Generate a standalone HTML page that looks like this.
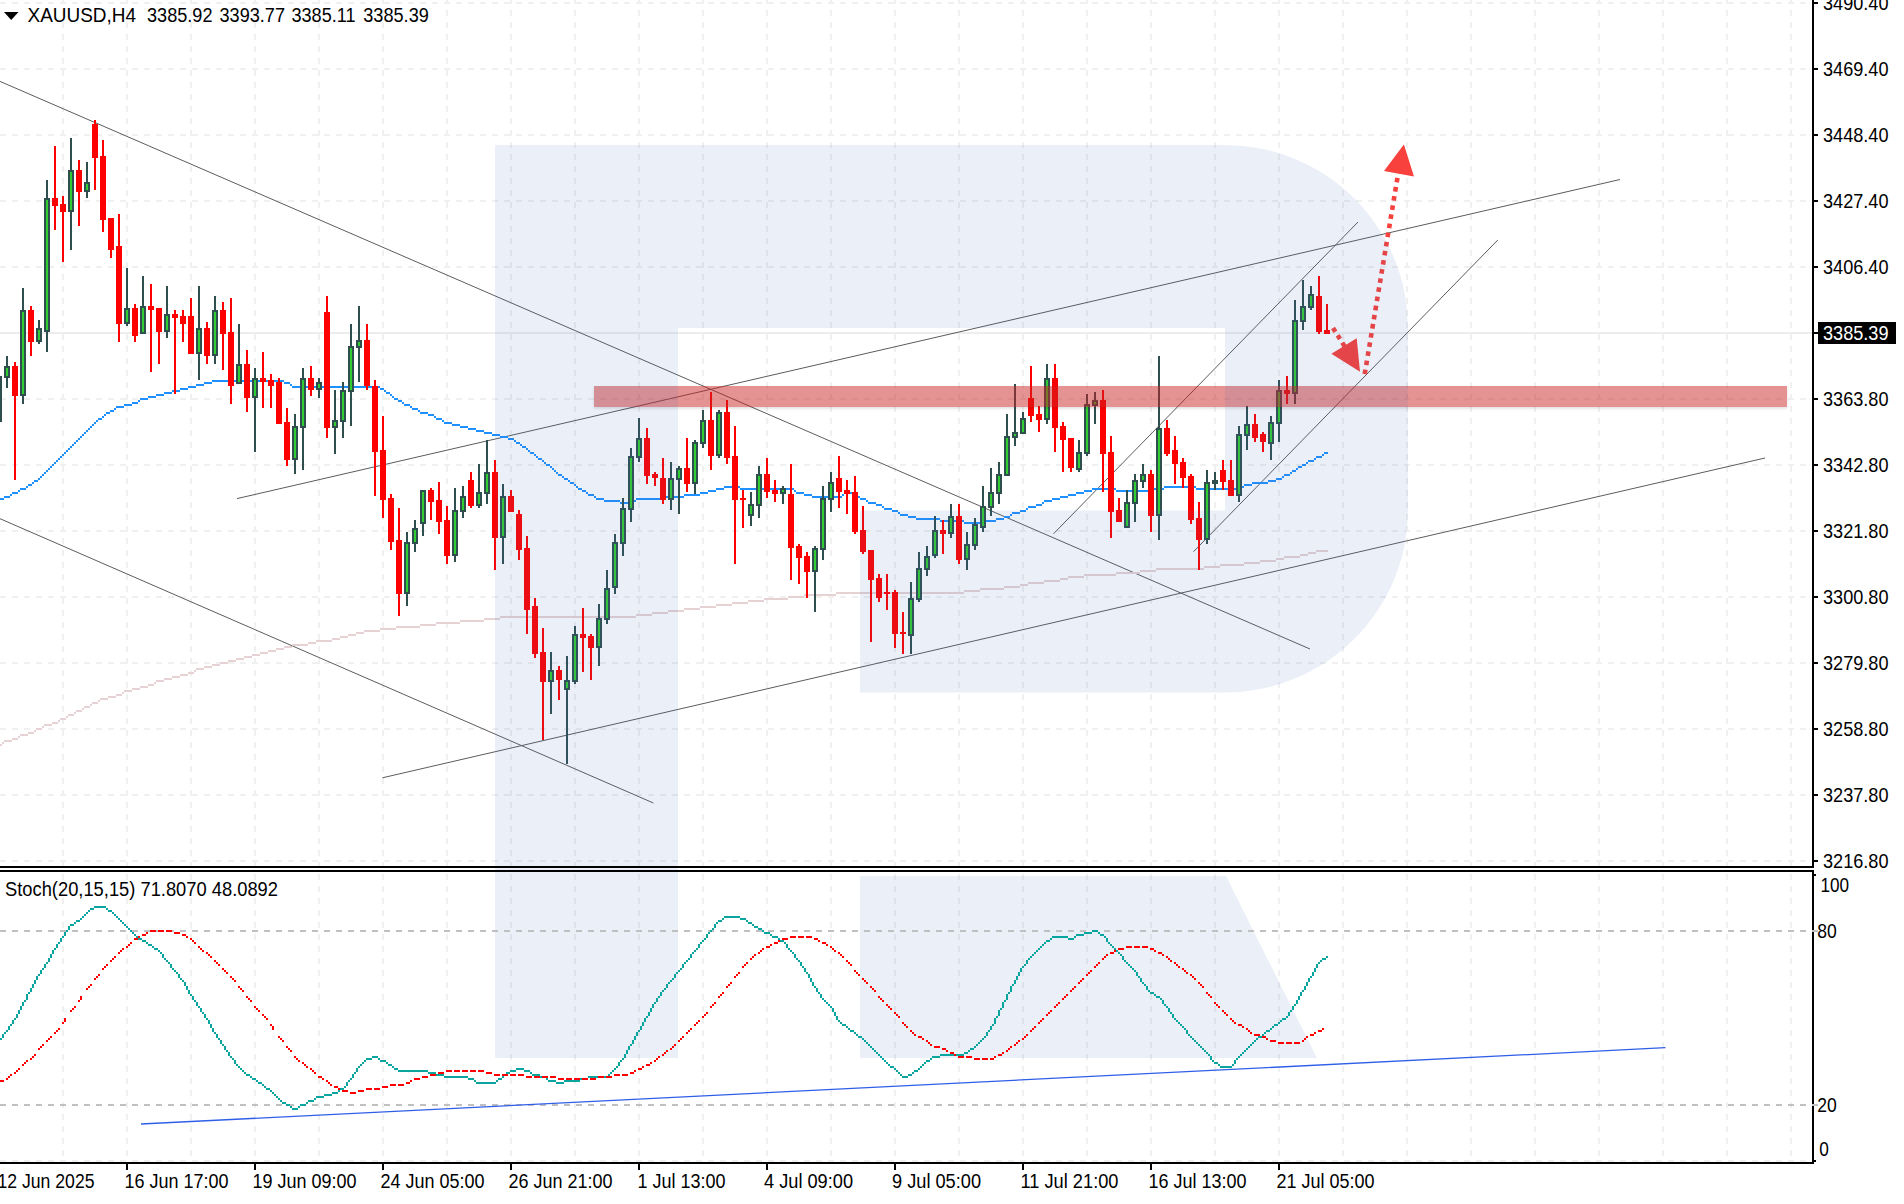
<!DOCTYPE html>
<html><head><meta charset="utf-8"><title>XAUUSD H4</title>
<style>html,body{margin:0;padding:0;background:#fff;overflow:hidden}svg{display:block}</style></head>
<body>
<svg width="1904" height="1204" viewBox="0 0 1904 1204">
<rect width="1904" height="1204" fill="#fff"/>
<g stroke="#f0f0f0" stroke-width="2" shape-rendering="crispEdges" fill="none">
<line x1="63" y1="-2" x2="63" y2="866" stroke-dasharray="6 6"/>
<line x1="63" y1="874" x2="63" y2="1162" stroke-dasharray="6 6"/>
<line x1="127" y1="-2" x2="127" y2="866" stroke-dasharray="6 6"/>
<line x1="127" y1="874" x2="127" y2="1162" stroke-dasharray="6 6"/>
<line x1="191" y1="-2" x2="191" y2="866" stroke-dasharray="6 6"/>
<line x1="191" y1="874" x2="191" y2="1162" stroke-dasharray="6 6"/>
<line x1="255" y1="-2" x2="255" y2="866" stroke-dasharray="6 6"/>
<line x1="255" y1="874" x2="255" y2="1162" stroke-dasharray="6 6"/>
<line x1="319" y1="-2" x2="319" y2="866" stroke-dasharray="6 6"/>
<line x1="319" y1="874" x2="319" y2="1162" stroke-dasharray="6 6"/>
<line x1="383" y1="-2" x2="383" y2="866" stroke-dasharray="6 6"/>
<line x1="383" y1="874" x2="383" y2="1162" stroke-dasharray="6 6"/>
<line x1="447" y1="-2" x2="447" y2="866" stroke-dasharray="6 6"/>
<line x1="447" y1="874" x2="447" y2="1162" stroke-dasharray="6 6"/>
<line x1="511" y1="-2" x2="511" y2="866" stroke-dasharray="6 6"/>
<line x1="511" y1="874" x2="511" y2="1162" stroke-dasharray="6 6"/>
<line x1="575" y1="-2" x2="575" y2="866" stroke-dasharray="6 6"/>
<line x1="575" y1="874" x2="575" y2="1162" stroke-dasharray="6 6"/>
<line x1="639" y1="-2" x2="639" y2="866" stroke-dasharray="6 6"/>
<line x1="639" y1="874" x2="639" y2="1162" stroke-dasharray="6 6"/>
<line x1="703" y1="-2" x2="703" y2="866" stroke-dasharray="6 6"/>
<line x1="703" y1="874" x2="703" y2="1162" stroke-dasharray="6 6"/>
<line x1="767" y1="-2" x2="767" y2="866" stroke-dasharray="6 6"/>
<line x1="767" y1="874" x2="767" y2="1162" stroke-dasharray="6 6"/>
<line x1="831" y1="-2" x2="831" y2="866" stroke-dasharray="6 6"/>
<line x1="831" y1="874" x2="831" y2="1162" stroke-dasharray="6 6"/>
<line x1="895" y1="-2" x2="895" y2="866" stroke-dasharray="6 6"/>
<line x1="895" y1="874" x2="895" y2="1162" stroke-dasharray="6 6"/>
<line x1="959" y1="-2" x2="959" y2="866" stroke-dasharray="6 6"/>
<line x1="959" y1="874" x2="959" y2="1162" stroke-dasharray="6 6"/>
<line x1="1023" y1="-2" x2="1023" y2="866" stroke-dasharray="6 6"/>
<line x1="1023" y1="874" x2="1023" y2="1162" stroke-dasharray="6 6"/>
<line x1="1087" y1="-2" x2="1087" y2="866" stroke-dasharray="6 6"/>
<line x1="1087" y1="874" x2="1087" y2="1162" stroke-dasharray="6 6"/>
<line x1="1151" y1="-2" x2="1151" y2="866" stroke-dasharray="6 6"/>
<line x1="1151" y1="874" x2="1151" y2="1162" stroke-dasharray="6 6"/>
<line x1="1215" y1="-2" x2="1215" y2="866" stroke-dasharray="6 6"/>
<line x1="1215" y1="874" x2="1215" y2="1162" stroke-dasharray="6 6"/>
<line x1="1279" y1="-2" x2="1279" y2="866" stroke-dasharray="6 6"/>
<line x1="1279" y1="874" x2="1279" y2="1162" stroke-dasharray="6 6"/>
<line x1="1343" y1="-2" x2="1343" y2="866" stroke-dasharray="6 6"/>
<line x1="1343" y1="874" x2="1343" y2="1162" stroke-dasharray="6 6"/>
<line x1="1407" y1="-2" x2="1407" y2="866" stroke-dasharray="6 6"/>
<line x1="1407" y1="874" x2="1407" y2="1162" stroke-dasharray="6 6"/>
<line x1="1471" y1="-2" x2="1471" y2="866" stroke-dasharray="6 6"/>
<line x1="1471" y1="874" x2="1471" y2="1162" stroke-dasharray="6 6"/>
<line x1="1535" y1="-2" x2="1535" y2="866" stroke-dasharray="6 6"/>
<line x1="1535" y1="874" x2="1535" y2="1162" stroke-dasharray="6 6"/>
<line x1="1599" y1="-2" x2="1599" y2="866" stroke-dasharray="6 6"/>
<line x1="1599" y1="874" x2="1599" y2="1162" stroke-dasharray="6 6"/>
<line x1="1663" y1="-2" x2="1663" y2="866" stroke-dasharray="6 6"/>
<line x1="1663" y1="874" x2="1663" y2="1162" stroke-dasharray="6 6"/>
<line x1="1727" y1="-2" x2="1727" y2="866" stroke-dasharray="6 6"/>
<line x1="1727" y1="874" x2="1727" y2="1162" stroke-dasharray="6 6"/>
<line x1="1791" y1="-2" x2="1791" y2="866" stroke-dasharray="6 6"/>
<line x1="1791" y1="874" x2="1791" y2="1162" stroke-dasharray="6 6"/>
<line x1="0" y1="3" x2="1812" y2="3" stroke-dasharray="6 6"/>
<line x1="0" y1="69" x2="1812" y2="69" stroke-dasharray="6 6"/>
<line x1="0" y1="135" x2="1812" y2="135" stroke-dasharray="6 6"/>
<line x1="0" y1="201" x2="1812" y2="201" stroke-dasharray="6 6"/>
<line x1="0" y1="267" x2="1812" y2="267" stroke-dasharray="6 6"/>
<line x1="0" y1="333" x2="1812" y2="333" stroke-dasharray="6 6"/>
<line x1="0" y1="399" x2="1812" y2="399" stroke-dasharray="6 6"/>
<line x1="0" y1="465" x2="1812" y2="465" stroke-dasharray="6 6"/>
<line x1="0" y1="531" x2="1812" y2="531" stroke-dasharray="6 6"/>
<line x1="0" y1="597" x2="1812" y2="597" stroke-dasharray="6 6"/>
<line x1="0" y1="663" x2="1812" y2="663" stroke-dasharray="6 6"/>
<line x1="0" y1="729" x2="1812" y2="729" stroke-dasharray="6 6"/>
<line x1="0" y1="795" x2="1812" y2="795" stroke-dasharray="6 6"/>
<line x1="0" y1="861" x2="1812" y2="861" stroke-dasharray="6 6"/>
<line x1="0" y1="1161" x2="1812" y2="1161" stroke-dasharray="6 6"/>
</g>
<rect x="0" y="332" width="1812" height="2" fill="#ededed" shape-rendering="crispEdges"/>
<g stroke="#5c5c5c" stroke-width="1.0" fill="none">
<line x1="0" y1="81.4" x2="1310" y2="649"/>
<line x1="0" y1="518.7" x2="653.4" y2="803"/>
<line x1="237" y1="498.6" x2="1620" y2="179.5"/>
<line x1="382.4" y1="777.8" x2="1765" y2="458"/>
<line x1="1053.5" y1="533.8" x2="1358" y2="222"/>
<line x1="1193.5" y1="551.7" x2="1497.8" y2="240"/>
</g>
<path d="M1316 550h12v2h-12zM1308 552h8v2h-8zM1300 554h8v2h-8zM1284 556h16v2h-16zM1276 558h8v2h-8zM1260 560h16v2h-16zM1244 562h16v2h-16zM1220 564h24v2h-24zM1204 566h16v2h-16zM1156 568h48v2h-48zM1140 570h16v2h-16zM1116 572h24v2h-24zM1084 574h32v2h-32zM1068 576h16v2h-16zM1060 578h8v2h-8zM1044 580h16v2h-16zM1028 582h16v2h-16zM1020 584h8v2h-8zM1004 586h16v2h-16zM980 588h24v2h-24zM964 590h16v2h-16zM836 592h128v2h-128zM804 594h32v2h-32zM788 596h16v2h-16zM764 598h24v2h-24zM748 600h16v2h-16zM732 602h16v2h-16zM716 604h16v2h-16zM700 606h16v2h-16zM684 608h16v2h-16zM668 610h16v2h-16zM652 612h16v2h-16zM636 614h16v2h-16zM500 616h136v2h-136zM484 618h16v2h-16zM460 620h24v2h-24zM436 622h24v2h-24zM420 624h16v2h-16zM396 626h24v2h-24zM380 628h16v2h-16zM364 630h16v2h-16zM356 632h8v2h-8zM348 634h8v2h-8zM340 636h8v2h-8zM332 638h8v2h-8zM316 640h16v2h-16zM308 642h8v2h-8zM292 644h16v2h-16zM284 646h8v2h-8zM276 648h8v2h-8zM268 650h8v2h-8zM260 652h8v2h-8zM252 654h8v2h-8zM244 656h8v2h-8zM236 658h8v2h-8zM228 660h8v2h-8zM220 662h8v2h-8zM212 664h8v2h-8zM204 666h8v2h-8zM196 668h8v2h-8zM194 670h2v2h-2zM188 672h6v2h-6zM180 674h8v2h-8zM172 676h8v2h-8zM164 678h8v2h-8zM156 680h8v2h-8zM154 682h2v2h-2zM148 684h6v2h-6zM140 686h8v2h-8zM132 688h8v2h-8zM124 690h8v2h-8zM122 692h2v2h-2zM116 694h6v2h-6zM108 696h8v2h-8zM100 698h8v2h-8zM98 700h2v2h-2zM92 702h6v2h-6zM90 704h2v2h-2zM84 706h6v2h-6zM82 708h2v2h-2zM76 710h6v2h-6zM74 712h2v2h-2zM68 714h6v2h-6zM66 716h2v2h-2zM60 718h6v2h-6zM58 720h2v2h-2zM52 722h6v2h-6zM44 724h8v2h-8zM42 726h2v2h-2zM36 728h6v2h-6zM34 730h2v2h-2zM28 732h6v2h-6zM20 734h8v2h-8zM18 736h2v2h-2zM12 738h6v2h-6zM4 740h8v2h-8zM2 742h2v2h-2zM-2 744h4v2h-4z" fill="#e6d2d2" shape-rendering="crispEdges"/>
<path d="M212 380h72v2h-72zM204 382h8v2h-8zM284 382h6v2h-6zM196 384h8v2h-8zM290 384h2v2h-2zM188 386h8v2h-8zM292 386h88v2h-88zM180 388h8v2h-8zM380 388h4v2h-4zM172 390h8v2h-8zM384 390h2v2h-2zM164 392h8v2h-8zM386 392h4v2h-4zM156 394h8v2h-8zM390 394h2v2h-2zM148 396h8v2h-8zM392 396h2v2h-2zM140 398h8v2h-8zM394 398h4v2h-4zM138 400h2v2h-2zM398 400h4v2h-4zM132 402h6v2h-6zM402 402h2v2h-2zM124 404h8v2h-8zM404 404h6v2h-6zM116 406h8v2h-8zM410 406h2v2h-2zM114 408h2v2h-2zM412 408h6v2h-6zM110 410h4v2h-4zM418 410h2v2h-2zM106 412h4v2h-4zM420 412h8v2h-8zM104 414h2v2h-2zM428 414h6v2h-6zM102 416h2v2h-2zM434 416h2v2h-2zM98 418h4v2h-4zM436 418h6v2h-6zM96 420h2v2h-2zM442 420h2v2h-2zM94 422h2v2h-2zM444 422h8v2h-8zM92 424h2v2h-2zM452 424h8v2h-8zM90 426h2v2h-2zM460 426h8v2h-8zM88 428h2v2h-2zM468 428h8v2h-8zM86 430h2v2h-2zM476 430h8v2h-8zM84 432h2v2h-2zM484 432h8v2h-8zM82 434h2v2h-2zM492 434h8v2h-8zM80 436h2v2h-2zM500 436h8v2h-8zM78 438h2v2h-2zM508 438h6v2h-6zM76 440h2v2h-2zM514 440h2v2h-2zM74 442h2v2h-2zM516 442h4v2h-4zM72 444h2v2h-2zM520 444h2v2h-2zM70 446h2v2h-2zM522 446h4v2h-4zM68 448h2v2h-2zM526 448h2v2h-2zM66 450h2v2h-2zM528 450h2v2h-2zM64 452h2v2h-2zM530 452h4v2h-4zM1324 452h4v2h-4zM62 454h2v2h-2zM534 454h2v2h-2zM1322 454h2v2h-2zM60 456h2v2h-2zM536 456h2v2h-2zM1316 456h6v2h-6zM58 458h2v2h-2zM538 458h4v2h-4zM1314 458h2v2h-2zM56 460h2v2h-2zM542 460h2v2h-2zM1308 460h6v2h-6zM54 462h2v2h-2zM544 462h2v2h-2zM1306 462h2v2h-2zM52 464h2v2h-2zM546 464h4v2h-4zM1302 464h4v2h-4zM50 466h2v2h-2zM550 466h2v2h-2zM1298 466h4v2h-4zM48 468h2v2h-2zM552 468h2v2h-2zM1296 468h2v2h-2zM46 470h2v2h-2zM554 470h2v2h-2zM1292 470h4v2h-4zM44 472h2v2h-2zM556 472h2v2h-2zM1290 472h2v2h-2zM42 474h2v2h-2zM558 474h4v2h-4zM1284 474h6v2h-6zM40 476h2v2h-2zM562 476h2v2h-2zM1282 476h2v2h-2zM38 478h2v2h-2zM564 478h4v2h-4zM1276 478h6v2h-6zM34 480h4v2h-4zM568 480h2v2h-2zM1268 480h8v2h-8zM32 482h2v2h-2zM570 482h4v2h-4zM1252 482h16v2h-16zM28 484h4v2h-4zM574 484h2v2h-2zM1244 484h8v2h-8zM26 486h2v2h-2zM576 486h2v2h-2zM724 486h16v2h-16zM1164 486h32v2h-32zM1236 486h8v2h-8zM20 488h6v2h-6zM578 488h4v2h-4zM716 488h8v2h-8zM740 488h54v2h-54zM1092 488h24v2h-24zM1148 488h16v2h-16zM1196 488h40v2h-40zM18 490h2v2h-2zM582 490h4v2h-4zM708 490h8v2h-8zM794 490h2v2h-2zM1084 490h8v2h-8zM1116 490h32v2h-32zM12 492h6v2h-6zM586 492h2v2h-2zM700 492h8v2h-8zM796 492h8v2h-8zM844 492h8v2h-8zM1076 492h8v2h-8zM10 494h2v2h-2zM588 494h6v2h-6zM684 494h16v2h-16zM804 494h8v2h-8zM842 494h2v2h-2zM852 494h6v2h-6zM1068 494h8v2h-8zM4 496h6v2h-6zM594 496h2v2h-2zM660 496h24v2h-24zM812 496h30v2h-30zM858 496h2v2h-2zM1060 496h8v2h-8zM-2 498h6v2h-6zM596 498h8v2h-8zM636 498h24v2h-24zM860 498h6v2h-6zM1052 498h8v2h-8zM604 500h16v2h-16zM628 500h8v2h-8zM866 500h2v2h-2zM1044 500h8v2h-8zM620 502h8v2h-8zM868 502h8v2h-8zM1042 502h2v2h-2zM876 504h6v2h-6zM1036 504h6v2h-6zM882 506h2v2h-2zM1028 506h8v2h-8zM884 508h8v2h-8zM1026 508h2v2h-2zM892 510h6v2h-6zM1020 510h6v2h-6zM898 512h2v2h-2zM1012 512h8v2h-8zM900 514h8v2h-8zM1010 514h2v2h-2zM908 516h8v2h-8zM1004 516h6v2h-6zM916 518h24v2h-24zM996 518h8v2h-8zM940 520h24v2h-24zM980 520h16v2h-16zM964 522h16v2h-16z" fill="#1e90ff" shape-rendering="crispEdges"/>
<g shape-rendering="crispEdges">
<rect x="0" y="376" width="2" height="46" fill="#2f4f4f"/>
<rect x="6" y="356" width="2" height="32" fill="#2f4f4f"/>
<rect x="4" y="366" width="6" height="12" fill="#2f4f4f"/>
<rect x="6" y="368" width="2" height="8" fill="#32cd32"/>
<rect x="14" y="362" width="2" height="118" fill="#ff0000"/>
<rect x="12" y="366" width="6" height="30" fill="#ff0000"/>
<rect x="22" y="288" width="2" height="116" fill="#2f4f4f"/>
<rect x="20" y="310" width="6" height="86" fill="#2f4f4f"/>
<rect x="22" y="312" width="2" height="82" fill="#32cd32"/>
<rect x="30" y="306" width="2" height="50" fill="#ff0000"/>
<rect x="28" y="310" width="6" height="32" fill="#ff0000"/>
<rect x="38" y="320" width="2" height="24" fill="#2f4f4f"/>
<rect x="36" y="328" width="6" height="14" fill="#2f4f4f"/>
<rect x="38" y="330" width="2" height="10" fill="#32cd32"/>
<rect x="46" y="180" width="2" height="172" fill="#2f4f4f"/>
<rect x="44" y="198" width="6" height="134" fill="#2f4f4f"/>
<rect x="46" y="200" width="2" height="130" fill="#32cd32"/>
<rect x="54" y="146" width="2" height="84" fill="#ff0000"/>
<rect x="52" y="198" width="6" height="8" fill="#ff0000"/>
<rect x="62" y="196" width="2" height="66" fill="#ff0000"/>
<rect x="60" y="204" width="6" height="8" fill="#ff0000"/>
<rect x="70" y="138" width="2" height="112" fill="#2f4f4f"/>
<rect x="68" y="170" width="6" height="42" fill="#2f4f4f"/>
<rect x="70" y="172" width="2" height="38" fill="#32cd32"/>
<rect x="78" y="160" width="2" height="66" fill="#ff0000"/>
<rect x="76" y="170" width="6" height="22" fill="#ff0000"/>
<rect x="86" y="162" width="2" height="36" fill="#2f4f4f"/>
<rect x="84" y="182" width="6" height="10" fill="#2f4f4f"/>
<rect x="86" y="184" width="2" height="6" fill="#32cd32"/>
<rect x="94" y="120" width="2" height="70" fill="#ff0000"/>
<rect x="92" y="124" width="6" height="34" fill="#ff0000"/>
<rect x="102" y="140" width="2" height="92" fill="#ff0000"/>
<rect x="100" y="156" width="6" height="64" fill="#ff0000"/>
<rect x="110" y="218" width="2" height="40" fill="#ff0000"/>
<rect x="108" y="218" width="6" height="32" fill="#ff0000"/>
<rect x="118" y="214" width="2" height="128" fill="#ff0000"/>
<rect x="116" y="246" width="6" height="78" fill="#ff0000"/>
<rect x="126" y="268" width="2" height="58" fill="#2f4f4f"/>
<rect x="124" y="308" width="6" height="16" fill="#2f4f4f"/>
<rect x="126" y="310" width="2" height="12" fill="#32cd32"/>
<rect x="134" y="304" width="2" height="38" fill="#ff0000"/>
<rect x="132" y="308" width="6" height="28" fill="#ff0000"/>
<rect x="142" y="276" width="2" height="58" fill="#2f4f4f"/>
<rect x="140" y="306" width="6" height="28" fill="#2f4f4f"/>
<rect x="142" y="308" width="2" height="24" fill="#32cd32"/>
<rect x="150" y="284" width="2" height="88" fill="#ff0000"/>
<rect x="148" y="306" width="6" height="4" fill="#ff0000"/>
<rect x="158" y="308" width="2" height="56" fill="#ff0000"/>
<rect x="156" y="308" width="6" height="24" fill="#ff0000"/>
<rect x="166" y="286" width="2" height="52" fill="#2f4f4f"/>
<rect x="164" y="314" width="6" height="18" fill="#2f4f4f"/>
<rect x="166" y="316" width="2" height="14" fill="#32cd32"/>
<rect x="174" y="310" width="2" height="84" fill="#ff0000"/>
<rect x="172" y="314" width="6" height="4" fill="#ff0000"/>
<rect x="182" y="310" width="2" height="32" fill="#ff0000"/>
<rect x="180" y="316" width="6" height="8" fill="#ff0000"/>
<rect x="190" y="298" width="2" height="56" fill="#ff0000"/>
<rect x="188" y="316" width="6" height="38" fill="#ff0000"/>
<rect x="198" y="286" width="2" height="94" fill="#2f4f4f"/>
<rect x="196" y="328" width="6" height="26" fill="#2f4f4f"/>
<rect x="198" y="330" width="2" height="22" fill="#32cd32"/>
<rect x="206" y="322" width="2" height="42" fill="#ff0000"/>
<rect x="204" y="328" width="6" height="28" fill="#ff0000"/>
<rect x="214" y="296" width="2" height="68" fill="#2f4f4f"/>
<rect x="212" y="310" width="6" height="46" fill="#2f4f4f"/>
<rect x="214" y="312" width="2" height="42" fill="#32cd32"/>
<rect x="222" y="302" width="2" height="68" fill="#ff0000"/>
<rect x="220" y="310" width="6" height="24" fill="#ff0000"/>
<rect x="230" y="298" width="2" height="106" fill="#ff0000"/>
<rect x="228" y="332" width="6" height="54" fill="#ff0000"/>
<rect x="238" y="324" width="2" height="60" fill="#2f4f4f"/>
<rect x="236" y="364" width="6" height="20" fill="#2f4f4f"/>
<rect x="238" y="366" width="2" height="16" fill="#32cd32"/>
<rect x="246" y="350" width="2" height="62" fill="#ff0000"/>
<rect x="244" y="364" width="6" height="34" fill="#ff0000"/>
<rect x="254" y="368" width="2" height="84" fill="#2f4f4f"/>
<rect x="252" y="378" width="6" height="20" fill="#2f4f4f"/>
<rect x="254" y="380" width="2" height="16" fill="#32cd32"/>
<rect x="262" y="352" width="2" height="56" fill="#ff0000"/>
<rect x="260" y="378" width="6" height="4" fill="#ff0000"/>
<rect x="270" y="374" width="2" height="34" fill="#ff0000"/>
<rect x="268" y="380" width="6" height="6" fill="#ff0000"/>
<rect x="278" y="378" width="2" height="46" fill="#ff0000"/>
<rect x="276" y="382" width="6" height="42" fill="#ff0000"/>
<rect x="286" y="408" width="2" height="58" fill="#ff0000"/>
<rect x="284" y="422" width="6" height="38" fill="#ff0000"/>
<rect x="294" y="414" width="2" height="60" fill="#2f4f4f"/>
<rect x="292" y="426" width="6" height="34" fill="#2f4f4f"/>
<rect x="294" y="428" width="2" height="30" fill="#32cd32"/>
<rect x="302" y="368" width="2" height="102" fill="#2f4f4f"/>
<rect x="300" y="378" width="6" height="50" fill="#2f4f4f"/>
<rect x="302" y="380" width="2" height="46" fill="#32cd32"/>
<rect x="310" y="366" width="2" height="30" fill="#ff0000"/>
<rect x="308" y="378" width="6" height="12" fill="#ff0000"/>
<rect x="318" y="378" width="2" height="20" fill="#2f4f4f"/>
<rect x="316" y="382" width="6" height="8" fill="#2f4f4f"/>
<rect x="318" y="384" width="2" height="4" fill="#32cd32"/>
<rect x="326" y="296" width="2" height="142" fill="#ff0000"/>
<rect x="324" y="312" width="6" height="116" fill="#ff0000"/>
<rect x="334" y="390" width="2" height="64" fill="#2f4f4f"/>
<rect x="332" y="420" width="6" height="8" fill="#2f4f4f"/>
<rect x="334" y="422" width="2" height="4" fill="#32cd32"/>
<rect x="342" y="382" width="2" height="56" fill="#2f4f4f"/>
<rect x="340" y="390" width="6" height="32" fill="#2f4f4f"/>
<rect x="342" y="392" width="2" height="28" fill="#32cd32"/>
<rect x="350" y="324" width="2" height="102" fill="#2f4f4f"/>
<rect x="348" y="346" width="6" height="46" fill="#2f4f4f"/>
<rect x="350" y="348" width="2" height="42" fill="#32cd32"/>
<rect x="358" y="306" width="2" height="76" fill="#2f4f4f"/>
<rect x="356" y="340" width="6" height="8" fill="#2f4f4f"/>
<rect x="358" y="342" width="2" height="4" fill="#32cd32"/>
<rect x="366" y="324" width="2" height="66" fill="#ff0000"/>
<rect x="364" y="340" width="6" height="46" fill="#ff0000"/>
<rect x="374" y="380" width="2" height="116" fill="#ff0000"/>
<rect x="372" y="386" width="6" height="66" fill="#ff0000"/>
<rect x="382" y="416" width="2" height="102" fill="#ff0000"/>
<rect x="380" y="450" width="6" height="50" fill="#ff0000"/>
<rect x="390" y="494" width="2" height="56" fill="#ff0000"/>
<rect x="388" y="498" width="6" height="44" fill="#ff0000"/>
<rect x="398" y="508" width="2" height="108" fill="#ff0000"/>
<rect x="396" y="540" width="6" height="54" fill="#ff0000"/>
<rect x="406" y="532" width="2" height="74" fill="#2f4f4f"/>
<rect x="404" y="542" width="6" height="52" fill="#2f4f4f"/>
<rect x="406" y="544" width="2" height="48" fill="#32cd32"/>
<rect x="414" y="520" width="2" height="32" fill="#2f4f4f"/>
<rect x="412" y="528" width="6" height="16" fill="#2f4f4f"/>
<rect x="414" y="530" width="2" height="12" fill="#32cd32"/>
<rect x="422" y="490" width="2" height="46" fill="#2f4f4f"/>
<rect x="420" y="490" width="6" height="34" fill="#2f4f4f"/>
<rect x="422" y="492" width="2" height="30" fill="#32cd32"/>
<rect x="430" y="488" width="2" height="32" fill="#ff0000"/>
<rect x="428" y="490" width="6" height="12" fill="#ff0000"/>
<rect x="438" y="482" width="2" height="52" fill="#ff0000"/>
<rect x="436" y="500" width="6" height="22" fill="#ff0000"/>
<rect x="446" y="506" width="2" height="58" fill="#ff0000"/>
<rect x="444" y="520" width="6" height="36" fill="#ff0000"/>
<rect x="454" y="488" width="2" height="74" fill="#2f4f4f"/>
<rect x="452" y="510" width="6" height="46" fill="#2f4f4f"/>
<rect x="454" y="512" width="2" height="42" fill="#32cd32"/>
<rect x="462" y="486" width="2" height="32" fill="#2f4f4f"/>
<rect x="460" y="496" width="6" height="16" fill="#2f4f4f"/>
<rect x="462" y="498" width="2" height="12" fill="#32cd32"/>
<rect x="470" y="472" width="2" height="36" fill="#ff0000"/>
<rect x="468" y="480" width="6" height="26" fill="#ff0000"/>
<rect x="478" y="464" width="2" height="44" fill="#2f4f4f"/>
<rect x="476" y="492" width="6" height="14" fill="#2f4f4f"/>
<rect x="478" y="494" width="2" height="10" fill="#32cd32"/>
<rect x="486" y="440" width="2" height="64" fill="#2f4f4f"/>
<rect x="484" y="472" width="6" height="22" fill="#2f4f4f"/>
<rect x="486" y="474" width="2" height="18" fill="#32cd32"/>
<rect x="494" y="460" width="2" height="110" fill="#ff0000"/>
<rect x="492" y="472" width="6" height="66" fill="#ff0000"/>
<rect x="502" y="484" width="2" height="80" fill="#2f4f4f"/>
<rect x="500" y="496" width="6" height="42" fill="#2f4f4f"/>
<rect x="502" y="498" width="2" height="38" fill="#32cd32"/>
<rect x="510" y="490" width="2" height="22" fill="#ff0000"/>
<rect x="508" y="496" width="6" height="16" fill="#ff0000"/>
<rect x="518" y="510" width="2" height="50" fill="#ff0000"/>
<rect x="516" y="514" width="6" height="36" fill="#ff0000"/>
<rect x="526" y="536" width="2" height="98" fill="#ff0000"/>
<rect x="524" y="548" width="6" height="62" fill="#ff0000"/>
<rect x="534" y="598" width="2" height="60" fill="#ff0000"/>
<rect x="532" y="606" width="6" height="48" fill="#ff0000"/>
<rect x="542" y="628" width="2" height="112" fill="#ff0000"/>
<rect x="540" y="652" width="6" height="30" fill="#ff0000"/>
<rect x="550" y="652" width="2" height="62" fill="#2f4f4f"/>
<rect x="548" y="670" width="6" height="12" fill="#2f4f4f"/>
<rect x="550" y="672" width="2" height="8" fill="#32cd32"/>
<rect x="558" y="666" width="2" height="34" fill="#ff0000"/>
<rect x="556" y="670" width="6" height="10" fill="#ff0000"/>
<rect x="566" y="656" width="2" height="108" fill="#2f4f4f"/>
<rect x="564" y="680" width="6" height="10" fill="#2f4f4f"/>
<rect x="566" y="682" width="2" height="6" fill="#32cd32"/>
<rect x="574" y="626" width="2" height="58" fill="#2f4f4f"/>
<rect x="572" y="634" width="6" height="48" fill="#2f4f4f"/>
<rect x="574" y="636" width="2" height="44" fill="#32cd32"/>
<rect x="582" y="608" width="2" height="64" fill="#ff0000"/>
<rect x="580" y="634" width="6" height="4" fill="#ff0000"/>
<rect x="590" y="634" width="2" height="46" fill="#ff0000"/>
<rect x="588" y="636" width="6" height="12" fill="#ff0000"/>
<rect x="598" y="604" width="2" height="62" fill="#2f4f4f"/>
<rect x="596" y="618" width="6" height="30" fill="#2f4f4f"/>
<rect x="598" y="620" width="2" height="26" fill="#32cd32"/>
<rect x="606" y="570" width="2" height="54" fill="#2f4f4f"/>
<rect x="604" y="588" width="6" height="32" fill="#2f4f4f"/>
<rect x="606" y="590" width="2" height="28" fill="#32cd32"/>
<rect x="614" y="534" width="2" height="60" fill="#2f4f4f"/>
<rect x="612" y="542" width="6" height="46" fill="#2f4f4f"/>
<rect x="614" y="544" width="2" height="42" fill="#32cd32"/>
<rect x="622" y="498" width="2" height="58" fill="#2f4f4f"/>
<rect x="620" y="508" width="6" height="36" fill="#2f4f4f"/>
<rect x="622" y="510" width="2" height="32" fill="#32cd32"/>
<rect x="630" y="448" width="2" height="74" fill="#2f4f4f"/>
<rect x="628" y="456" width="6" height="54" fill="#2f4f4f"/>
<rect x="630" y="458" width="2" height="50" fill="#32cd32"/>
<rect x="638" y="418" width="2" height="44" fill="#2f4f4f"/>
<rect x="636" y="438" width="6" height="20" fill="#2f4f4f"/>
<rect x="638" y="440" width="2" height="16" fill="#32cd32"/>
<rect x="646" y="428" width="2" height="56" fill="#ff0000"/>
<rect x="644" y="438" width="6" height="38" fill="#ff0000"/>
<rect x="654" y="472" width="2" height="14" fill="#ff0000"/>
<rect x="652" y="474" width="6" height="4" fill="#ff0000"/>
<rect x="662" y="458" width="2" height="46" fill="#ff0000"/>
<rect x="660" y="478" width="6" height="22" fill="#ff0000"/>
<rect x="670" y="462" width="2" height="48" fill="#2f4f4f"/>
<rect x="668" y="478" width="6" height="22" fill="#2f4f4f"/>
<rect x="670" y="480" width="2" height="18" fill="#32cd32"/>
<rect x="678" y="466" width="2" height="48" fill="#2f4f4f"/>
<rect x="676" y="468" width="6" height="12" fill="#2f4f4f"/>
<rect x="678" y="470" width="2" height="8" fill="#32cd32"/>
<rect x="686" y="438" width="2" height="54" fill="#ff0000"/>
<rect x="684" y="468" width="6" height="16" fill="#ff0000"/>
<rect x="694" y="440" width="2" height="54" fill="#2f4f4f"/>
<rect x="692" y="442" width="6" height="42" fill="#2f4f4f"/>
<rect x="694" y="444" width="2" height="38" fill="#32cd32"/>
<rect x="702" y="410" width="2" height="38" fill="#2f4f4f"/>
<rect x="700" y="420" width="6" height="24" fill="#2f4f4f"/>
<rect x="702" y="422" width="2" height="20" fill="#32cd32"/>
<rect x="710" y="392" width="2" height="78" fill="#ff0000"/>
<rect x="708" y="420" width="6" height="36" fill="#ff0000"/>
<rect x="718" y="410" width="2" height="48" fill="#2f4f4f"/>
<rect x="716" y="412" width="6" height="44" fill="#2f4f4f"/>
<rect x="718" y="414" width="2" height="40" fill="#32cd32"/>
<rect x="726" y="400" width="2" height="64" fill="#ff0000"/>
<rect x="724" y="412" width="6" height="46" fill="#ff0000"/>
<rect x="734" y="426" width="2" height="138" fill="#ff0000"/>
<rect x="732" y="456" width="6" height="44" fill="#ff0000"/>
<rect x="742" y="490" width="2" height="38" fill="#ff0000"/>
<rect x="740" y="498" width="6" height="2" fill="#ff0000"/>
<rect x="750" y="492" width="2" height="34" fill="#2f4f4f"/>
<rect x="748" y="504" width="6" height="12" fill="#2f4f4f"/>
<rect x="750" y="506" width="2" height="8" fill="#32cd32"/>
<rect x="758" y="466" width="2" height="52" fill="#2f4f4f"/>
<rect x="756" y="474" width="6" height="32" fill="#2f4f4f"/>
<rect x="758" y="476" width="2" height="28" fill="#32cd32"/>
<rect x="766" y="458" width="2" height="40" fill="#ff0000"/>
<rect x="764" y="474" width="6" height="18" fill="#ff0000"/>
<rect x="774" y="480" width="2" height="22" fill="#ff0000"/>
<rect x="772" y="490" width="6" height="4" fill="#ff0000"/>
<rect x="782" y="486" width="2" height="18" fill="#2f4f4f"/>
<rect x="780" y="488" width="6" height="6" fill="#2f4f4f"/>
<rect x="782" y="490" width="2" height="2" fill="#32cd32"/>
<rect x="790" y="464" width="2" height="116" fill="#ff0000"/>
<rect x="788" y="494" width="6" height="54" fill="#ff0000"/>
<rect x="798" y="544" width="2" height="40" fill="#ff0000"/>
<rect x="796" y="546" width="6" height="12" fill="#ff0000"/>
<rect x="806" y="552" width="2" height="46" fill="#ff0000"/>
<rect x="804" y="556" width="6" height="16" fill="#ff0000"/>
<rect x="814" y="546" width="2" height="66" fill="#2f4f4f"/>
<rect x="812" y="548" width="6" height="24" fill="#2f4f4f"/>
<rect x="814" y="550" width="2" height="20" fill="#32cd32"/>
<rect x="822" y="486" width="2" height="74" fill="#2f4f4f"/>
<rect x="820" y="498" width="6" height="52" fill="#2f4f4f"/>
<rect x="822" y="500" width="2" height="48" fill="#32cd32"/>
<rect x="830" y="472" width="2" height="40" fill="#2f4f4f"/>
<rect x="828" y="482" width="6" height="18" fill="#2f4f4f"/>
<rect x="830" y="484" width="2" height="14" fill="#32cd32"/>
<rect x="838" y="456" width="2" height="52" fill="#ff0000"/>
<rect x="836" y="478" width="6" height="14" fill="#ff0000"/>
<rect x="846" y="480" width="2" height="34" fill="#ff0000"/>
<rect x="844" y="490" width="6" height="4" fill="#ff0000"/>
<rect x="854" y="476" width="2" height="58" fill="#ff0000"/>
<rect x="852" y="492" width="6" height="40" fill="#ff0000"/>
<rect x="862" y="506" width="2" height="48" fill="#ff0000"/>
<rect x="860" y="530" width="6" height="22" fill="#ff0000"/>
<rect x="870" y="550" width="2" height="92" fill="#ff0000"/>
<rect x="868" y="550" width="6" height="30" fill="#ff0000"/>
<rect x="878" y="574" width="2" height="28" fill="#ff0000"/>
<rect x="876" y="578" width="6" height="20" fill="#ff0000"/>
<rect x="886" y="574" width="2" height="36" fill="#ff0000"/>
<rect x="884" y="592" width="6" height="2" fill="#ff0000"/>
<rect x="894" y="590" width="2" height="58" fill="#ff0000"/>
<rect x="892" y="592" width="6" height="42" fill="#ff0000"/>
<rect x="902" y="612" width="2" height="42" fill="#ff0000"/>
<rect x="900" y="632" width="6" height="2" fill="#ff0000"/>
<rect x="910" y="582" width="2" height="72" fill="#2f4f4f"/>
<rect x="908" y="598" width="6" height="38" fill="#2f4f4f"/>
<rect x="910" y="600" width="2" height="34" fill="#32cd32"/>
<rect x="918" y="552" width="2" height="50" fill="#2f4f4f"/>
<rect x="916" y="568" width="6" height="32" fill="#2f4f4f"/>
<rect x="918" y="570" width="2" height="28" fill="#32cd32"/>
<rect x="926" y="546" width="2" height="30" fill="#2f4f4f"/>
<rect x="924" y="556" width="6" height="14" fill="#2f4f4f"/>
<rect x="926" y="558" width="2" height="10" fill="#32cd32"/>
<rect x="934" y="516" width="2" height="42" fill="#2f4f4f"/>
<rect x="932" y="530" width="6" height="26" fill="#2f4f4f"/>
<rect x="934" y="532" width="2" height="22" fill="#32cd32"/>
<rect x="942" y="520" width="2" height="34" fill="#ff0000"/>
<rect x="940" y="530" width="6" height="4" fill="#ff0000"/>
<rect x="950" y="504" width="2" height="34" fill="#2f4f4f"/>
<rect x="948" y="516" width="6" height="18" fill="#2f4f4f"/>
<rect x="950" y="518" width="2" height="14" fill="#32cd32"/>
<rect x="958" y="504" width="2" height="60" fill="#ff0000"/>
<rect x="956" y="516" width="6" height="44" fill="#ff0000"/>
<rect x="966" y="532" width="2" height="38" fill="#2f4f4f"/>
<rect x="964" y="544" width="6" height="16" fill="#2f4f4f"/>
<rect x="966" y="546" width="2" height="12" fill="#32cd32"/>
<rect x="974" y="518" width="2" height="32" fill="#2f4f4f"/>
<rect x="972" y="524" width="6" height="22" fill="#2f4f4f"/>
<rect x="974" y="526" width="2" height="18" fill="#32cd32"/>
<rect x="982" y="486" width="2" height="46" fill="#2f4f4f"/>
<rect x="980" y="506" width="6" height="22" fill="#2f4f4f"/>
<rect x="982" y="508" width="2" height="18" fill="#32cd32"/>
<rect x="990" y="468" width="2" height="48" fill="#2f4f4f"/>
<rect x="988" y="492" width="6" height="16" fill="#2f4f4f"/>
<rect x="990" y="494" width="2" height="12" fill="#32cd32"/>
<rect x="998" y="462" width="2" height="42" fill="#2f4f4f"/>
<rect x="996" y="474" width="6" height="20" fill="#2f4f4f"/>
<rect x="998" y="476" width="2" height="16" fill="#32cd32"/>
<rect x="1006" y="414" width="2" height="62" fill="#2f4f4f"/>
<rect x="1004" y="436" width="6" height="40" fill="#2f4f4f"/>
<rect x="1006" y="438" width="2" height="36" fill="#32cd32"/>
<rect x="1014" y="384" width="2" height="62" fill="#2f4f4f"/>
<rect x="1012" y="432" width="6" height="6" fill="#2f4f4f"/>
<rect x="1014" y="434" width="2" height="2" fill="#32cd32"/>
<rect x="1022" y="412" width="2" height="22" fill="#2f4f4f"/>
<rect x="1020" y="418" width="6" height="16" fill="#2f4f4f"/>
<rect x="1022" y="420" width="2" height="12" fill="#32cd32"/>
<rect x="1030" y="366" width="2" height="56" fill="#ff0000"/>
<rect x="1028" y="398" width="6" height="18" fill="#ff0000"/>
<rect x="1038" y="406" width="2" height="26" fill="#ff0000"/>
<rect x="1036" y="414" width="6" height="6" fill="#ff0000"/>
<rect x="1046" y="364" width="2" height="60" fill="#2f4f4f"/>
<rect x="1044" y="378" width="6" height="42" fill="#2f4f4f"/>
<rect x="1046" y="380" width="2" height="38" fill="#32cd32"/>
<rect x="1054" y="364" width="2" height="88" fill="#ff0000"/>
<rect x="1052" y="378" width="6" height="50" fill="#ff0000"/>
<rect x="1062" y="422" width="2" height="50" fill="#ff0000"/>
<rect x="1060" y="426" width="6" height="14" fill="#ff0000"/>
<rect x="1070" y="438" width="2" height="34" fill="#ff0000"/>
<rect x="1068" y="438" width="6" height="30" fill="#ff0000"/>
<rect x="1078" y="440" width="2" height="32" fill="#2f4f4f"/>
<rect x="1076" y="452" width="6" height="18" fill="#2f4f4f"/>
<rect x="1078" y="454" width="2" height="14" fill="#32cd32"/>
<rect x="1086" y="394" width="2" height="62" fill="#2f4f4f"/>
<rect x="1084" y="404" width="6" height="50" fill="#2f4f4f"/>
<rect x="1086" y="406" width="2" height="46" fill="#32cd32"/>
<rect x="1094" y="392" width="2" height="32" fill="#2f4f4f"/>
<rect x="1092" y="400" width="6" height="6" fill="#2f4f4f"/>
<rect x="1094" y="402" width="2" height="2" fill="#32cd32"/>
<rect x="1102" y="390" width="2" height="102" fill="#ff0000"/>
<rect x="1100" y="400" width="6" height="54" fill="#ff0000"/>
<rect x="1110" y="436" width="2" height="102" fill="#ff0000"/>
<rect x="1108" y="452" width="6" height="60" fill="#ff0000"/>
<rect x="1118" y="498" width="2" height="24" fill="#ff0000"/>
<rect x="1116" y="510" width="6" height="12" fill="#ff0000"/>
<rect x="1126" y="490" width="2" height="38" fill="#2f4f4f"/>
<rect x="1124" y="502" width="6" height="26" fill="#2f4f4f"/>
<rect x="1126" y="504" width="2" height="22" fill="#32cd32"/>
<rect x="1134" y="474" width="2" height="48" fill="#2f4f4f"/>
<rect x="1132" y="480" width="6" height="24" fill="#2f4f4f"/>
<rect x="1134" y="482" width="2" height="20" fill="#32cd32"/>
<rect x="1142" y="464" width="2" height="24" fill="#2f4f4f"/>
<rect x="1140" y="474" width="6" height="8" fill="#2f4f4f"/>
<rect x="1142" y="476" width="2" height="4" fill="#32cd32"/>
<rect x="1150" y="470" width="2" height="62" fill="#ff0000"/>
<rect x="1148" y="474" width="6" height="42" fill="#ff0000"/>
<rect x="1158" y="356" width="2" height="184" fill="#2f4f4f"/>
<rect x="1156" y="428" width="6" height="88" fill="#2f4f4f"/>
<rect x="1158" y="430" width="2" height="84" fill="#32cd32"/>
<rect x="1166" y="420" width="2" height="36" fill="#ff0000"/>
<rect x="1164" y="428" width="6" height="26" fill="#ff0000"/>
<rect x="1174" y="436" width="2" height="48" fill="#ff0000"/>
<rect x="1172" y="450" width="6" height="14" fill="#ff0000"/>
<rect x="1182" y="458" width="2" height="30" fill="#ff0000"/>
<rect x="1180" y="462" width="6" height="16" fill="#ff0000"/>
<rect x="1190" y="474" width="2" height="50" fill="#ff0000"/>
<rect x="1188" y="476" width="6" height="44" fill="#ff0000"/>
<rect x="1198" y="502" width="2" height="68" fill="#ff0000"/>
<rect x="1196" y="518" width="6" height="22" fill="#ff0000"/>
<rect x="1206" y="470" width="2" height="74" fill="#2f4f4f"/>
<rect x="1204" y="482" width="6" height="58" fill="#2f4f4f"/>
<rect x="1206" y="484" width="2" height="54" fill="#32cd32"/>
<rect x="1214" y="472" width="2" height="18" fill="#2f4f4f"/>
<rect x="1212" y="480" width="6" height="4" fill="#2f4f4f"/>
<rect x="1222" y="460" width="2" height="30" fill="#ff0000"/>
<rect x="1220" y="470" width="6" height="12" fill="#ff0000"/>
<rect x="1230" y="460" width="2" height="36" fill="#ff0000"/>
<rect x="1228" y="480" width="6" height="16" fill="#ff0000"/>
<rect x="1238" y="426" width="2" height="76" fill="#2f4f4f"/>
<rect x="1236" y="434" width="6" height="62" fill="#2f4f4f"/>
<rect x="1238" y="436" width="2" height="58" fill="#32cd32"/>
<rect x="1246" y="406" width="2" height="44" fill="#2f4f4f"/>
<rect x="1244" y="424" width="6" height="12" fill="#2f4f4f"/>
<rect x="1246" y="426" width="2" height="8" fill="#32cd32"/>
<rect x="1254" y="414" width="2" height="28" fill="#ff0000"/>
<rect x="1252" y="424" width="6" height="14" fill="#ff0000"/>
<rect x="1262" y="432" width="2" height="20" fill="#ff0000"/>
<rect x="1260" y="434" width="6" height="8" fill="#ff0000"/>
<rect x="1270" y="416" width="2" height="44" fill="#2f4f4f"/>
<rect x="1268" y="422" width="6" height="22" fill="#2f4f4f"/>
<rect x="1270" y="424" width="2" height="18" fill="#32cd32"/>
<rect x="1278" y="380" width="2" height="62" fill="#2f4f4f"/>
<rect x="1276" y="390" width="6" height="34" fill="#2f4f4f"/>
<rect x="1278" y="392" width="2" height="30" fill="#32cd32"/>
<rect x="1286" y="376" width="2" height="28" fill="#ff0000"/>
<rect x="1284" y="390" width="6" height="4" fill="#ff0000"/>
<rect x="1294" y="300" width="2" height="104" fill="#2f4f4f"/>
<rect x="1292" y="320" width="6" height="74" fill="#2f4f4f"/>
<rect x="1294" y="322" width="2" height="70" fill="#32cd32"/>
<rect x="1302" y="280" width="2" height="50" fill="#2f4f4f"/>
<rect x="1300" y="306" width="6" height="16" fill="#2f4f4f"/>
<rect x="1302" y="308" width="2" height="12" fill="#32cd32"/>
<rect x="1310" y="286" width="2" height="24" fill="#2f4f4f"/>
<rect x="1308" y="294" width="6" height="14" fill="#2f4f4f"/>
<rect x="1310" y="296" width="2" height="10" fill="#32cd32"/>
<rect x="1318" y="276" width="2" height="58" fill="#ff0000"/>
<rect x="1316" y="296" width="6" height="36" fill="#ff0000"/>
<rect x="1326" y="304" width="2" height="30" fill="#ff0000"/>
<rect x="1324" y="330" width="6" height="4" fill="#ff0000"/>
</g>
<defs><filter id="bs" x="-2%" y="-60%" width="104%" height="220%"><feGaussianBlur stdDeviation="1.4"/></filter><clipPath id="bc"><path clip-rule="evenodd" d="M560,370 H1820 V425 H560 Z M594,386 H1787 V407 H594 Z"/></clipPath></defs>
<rect x="594" y="387.5" width="1193" height="21" fill="#000" opacity="0.13" filter="url(#bs)" clip-path="url(#bc)"/>
<rect x="594" y="386" width="1193" height="21" fill="rgba(201,32,32,0.49)"/>
<g fill="#f8403c" stroke="none">
<line x1="1364.7" y1="374.2" x2="1397.6" y2="177" stroke="#f8403c" stroke-width="4.6" stroke-dasharray="4.6 4.66" fill="none"/>
<polygon points="1403.9,144.5 1384,171 1414,176.6"/>
<line x1="1333" y1="328" x2="1344.8" y2="346.6" stroke="#f8403c" stroke-width="4.6" stroke-dasharray="4.5 4.15" fill="none"/>
<polygon points="1360,371.8 1331.4,353.7 1356.7,338.2"/>
</g>
<path fill="rgba(70,107,181,0.108)" fill-rule="evenodd" d="M495,145 H1225 A183,183 0 0 1 1408,328 V510 A183,183 0 0 1 1225,692.5 H860 V510.5 H1225 V328 H678 V1058 H495 Z M860,876 H1226 L1317,1058 H860 Z"/>
<g fill="#000" shape-rendering="crispEdges">
<rect x="0" y="866" width="1814" height="2"/>
<rect x="0" y="870" width="1814" height="2"/>
<rect x="1812" y="0" width="2" height="868"/>
<rect x="1812" y="870" width="2" height="294"/>
<rect x="0" y="1162" width="1814" height="2"/>
<rect x="1814" y="2" width="4" height="2"/>
<rect x="1814" y="68" width="4" height="2"/>
<rect x="1814" y="134" width="4" height="2"/>
<rect x="1814" y="200" width="4" height="2"/>
<rect x="1814" y="266" width="4" height="2"/>
<rect x="1814" y="332" width="4" height="2"/>
<rect x="1814" y="398" width="4" height="2"/>
<rect x="1814" y="464" width="4" height="2"/>
<rect x="1814" y="530" width="4" height="2"/>
<rect x="1814" y="596" width="4" height="2"/>
<rect x="1814" y="662" width="4" height="2"/>
<rect x="1814" y="728" width="4" height="2"/>
<rect x="1814" y="794" width="4" height="2"/>
<rect x="1814" y="860" width="4" height="2"/>
<rect x="1814" y="874" width="2" height="2"/>
<rect x="1814" y="1160" width="2" height="2"/>
<rect x="126" y="1164" width="2" height="6"/>
<rect x="254" y="1164" width="2" height="6"/>
<rect x="382" y="1164" width="2" height="6"/>
<rect x="510" y="1164" width="2" height="6"/>
<rect x="638" y="1164" width="2" height="6"/>
<rect x="766" y="1164" width="2" height="6"/>
<rect x="894" y="1164" width="2" height="6"/>
<rect x="1022" y="1164" width="2" height="6"/>
<rect x="1150" y="1164" width="2" height="6"/>
<rect x="1278" y="1164" width="2" height="6"/>
</g>
<g stroke="#c0c0c0" stroke-width="2" shape-rendering="crispEdges" stroke-dasharray="6 6">
<line x1="0" y1="931" x2="1818" y2="931"/>
<line x1="0" y1="1105" x2="1818" y2="1105"/>
</g>
<line x1="141" y1="1124" x2="1665.5" y2="1047.7" stroke="#2f5fe8" stroke-width="1.3"/>
<path d="M94 906h12v2h-12zM90 908h4v2h-4zM106 908h2v2h-2zM88 910h2v2h-2zM108 910h4v2h-4zM86 912h2v2h-2zM112 912h2v2h-2zM84 914h2v2h-2zM114 914h2v2h-2zM82 916h2v2h-2zM116 916h2v2h-2zM724 916h16v2h-16zM80 918h2v2h-2zM118 918h2v2h-2zM722 918h2v2h-2zM740 918h6v2h-6zM76 920h4v2h-4zM120 920h2v2h-2zM718 920h4v2h-4zM746 920h2v2h-2zM74 922h2v2h-2zM122 922h2v2h-2zM716 922h2v2h-2zM748 922h4v2h-4zM70 924h4v2h-4zM124 924h2v2h-2zM714 924h2v2h-2zM752 924h2v2h-2zM68 926h2v2h-2zM126 926h2v2h-2zM714 926h2v2h-2zM754 926h4v2h-4zM68 928h2v2h-2zM128 928h2v2h-2zM712 928h2v2h-2zM758 928h4v2h-4zM66 930h2v2h-2zM130 930h2v2h-2zM710 930h2v2h-2zM762 930h2v2h-2zM1092 930h6v2h-6zM64 932h2v2h-2zM132 932h2v2h-2zM708 932h2v2h-2zM764 932h6v2h-6zM1084 932h8v2h-8zM1098 932h2v2h-2zM64 934h2v2h-2zM134 934h2v2h-2zM706 934h2v2h-2zM770 934h2v2h-2zM1076 934h8v2h-8zM1100 934h4v2h-4zM62 936h2v2h-2zM136 936h2v2h-2zM706 936h2v2h-2zM772 936h6v2h-6zM1052 936h16v2h-16zM1074 936h2v2h-2zM1104 936h2v2h-2zM60 938h2v2h-2zM138 938h4v2h-4zM704 938h2v2h-2zM778 938h2v2h-2zM1050 938h2v2h-2zM1068 938h6v2h-6zM1106 938h2v2h-2zM60 940h2v2h-2zM142 940h4v2h-4zM702 940h2v2h-2zM780 940h4v2h-4zM1046 940h4v2h-4zM1106 940h2v2h-2zM58 942h2v2h-2zM146 942h2v2h-2zM700 942h2v2h-2zM784 942h2v2h-2zM1044 942h2v2h-2zM1108 942h2v2h-2zM56 944h2v2h-2zM148 944h4v2h-4zM698 944h2v2h-2zM786 944h2v2h-2zM1042 944h2v2h-2zM1110 944h2v2h-2zM56 946h2v2h-2zM152 946h2v2h-2zM698 946h2v2h-2zM786 946h2v2h-2zM1040 946h2v2h-2zM1112 946h2v2h-2zM54 948h2v2h-2zM154 948h4v2h-4zM696 948h2v2h-2zM788 948h2v2h-2zM1038 948h2v2h-2zM1114 948h2v2h-2zM52 950h2v2h-2zM158 950h2v2h-2zM694 950h2v2h-2zM790 950h2v2h-2zM1036 950h2v2h-2zM1116 950h2v2h-2zM52 952h2v2h-2zM160 952h2v2h-2zM692 952h2v2h-2zM792 952h2v2h-2zM1034 952h2v2h-2zM1118 952h2v2h-2zM50 954h2v2h-2zM162 954h2v2h-2zM690 954h2v2h-2zM794 954h2v2h-2zM1032 954h2v2h-2zM1120 954h2v2h-2zM50 956h2v2h-2zM162 956h2v2h-2zM690 956h2v2h-2zM794 956h2v2h-2zM1030 956h2v2h-2zM1122 956h2v2h-2zM1326 956h2v2h-2zM48 958h2v2h-2zM164 958h2v2h-2zM688 958h2v2h-2zM796 958h2v2h-2zM1028 958h2v2h-2zM1122 958h2v2h-2zM1322 958h4v2h-4zM48 960h2v2h-2zM166 960h2v2h-2zM686 960h2v2h-2zM798 960h2v2h-2zM1026 960h2v2h-2zM1124 960h2v2h-2zM1320 960h2v2h-2zM46 962h2v2h-2zM168 962h2v2h-2zM684 962h2v2h-2zM800 962h2v2h-2zM1026 962h2v2h-2zM1126 962h2v2h-2zM1318 962h2v2h-2zM44 964h2v2h-2zM170 964h2v2h-2zM682 964h2v2h-2zM800 964h2v2h-2zM1024 964h2v2h-2zM1128 964h2v2h-2zM1316 964h2v2h-2zM44 966h2v2h-2zM170 966h2v2h-2zM682 966h2v2h-2zM802 966h2v2h-2zM1022 966h2v2h-2zM1130 966h2v2h-2zM1316 966h2v2h-2zM42 968h2v2h-2zM172 968h2v2h-2zM680 968h2v2h-2zM804 968h2v2h-2zM1020 968h2v2h-2zM1132 968h2v2h-2zM1314 968h2v2h-2zM40 970h2v2h-2zM174 970h2v2h-2zM678 970h2v2h-2zM804 970h2v2h-2zM1020 970h2v2h-2zM1134 970h2v2h-2zM1314 970h2v2h-2zM40 972h2v2h-2zM176 972h2v2h-2zM676 972h2v2h-2zM806 972h2v2h-2zM1018 972h2v2h-2zM1136 972h2v2h-2zM1312 972h2v2h-2zM38 974h2v2h-2zM178 974h2v2h-2zM674 974h2v2h-2zM808 974h2v2h-2zM1018 974h2v2h-2zM1136 974h2v2h-2zM1312 974h2v2h-2zM36 976h2v2h-2zM178 976h2v2h-2zM674 976h2v2h-2zM808 976h2v2h-2zM1016 976h2v2h-2zM1138 976h2v2h-2zM1310 976h2v2h-2zM36 978h2v2h-2zM180 978h2v2h-2zM672 978h2v2h-2zM810 978h2v2h-2zM1016 978h2v2h-2zM1140 978h2v2h-2zM1308 978h2v2h-2zM34 980h2v2h-2zM182 980h2v2h-2zM670 980h2v2h-2zM810 980h2v2h-2zM1014 980h2v2h-2zM1140 980h2v2h-2zM1308 980h2v2h-2zM34 982h2v2h-2zM184 982h2v2h-2zM668 982h2v2h-2zM812 982h2v2h-2zM1014 982h2v2h-2zM1142 982h2v2h-2zM1306 982h2v2h-2zM32 984h2v2h-2zM184 984h2v2h-2zM666 984h2v2h-2zM812 984h2v2h-2zM1012 984h2v2h-2zM1144 984h2v2h-2zM1306 984h2v2h-2zM32 986h2v2h-2zM186 986h2v2h-2zM666 986h2v2h-2zM814 986h2v2h-2zM1010 986h2v2h-2zM1146 986h2v2h-2zM1304 986h2v2h-2zM30 988h2v2h-2zM186 988h2v2h-2zM664 988h2v2h-2zM816 988h2v2h-2zM1010 988h2v2h-2zM1146 988h2v2h-2zM1304 988h2v2h-2zM30 990h2v2h-2zM188 990h2v2h-2zM662 990h2v2h-2zM816 990h2v2h-2zM1010 990h2v2h-2zM1148 990h2v2h-2zM1302 990h2v2h-2zM28 992h2v2h-2zM188 992h2v2h-2zM660 992h2v2h-2zM818 992h2v2h-2zM1008 992h2v2h-2zM1150 992h4v2h-4zM1300 992h2v2h-2zM26 994h2v2h-2zM190 994h2v2h-2zM660 994h2v2h-2zM820 994h2v2h-2zM1006 994h2v2h-2zM1154 994h2v2h-2zM1300 994h2v2h-2zM26 996h2v2h-2zM192 996h2v2h-2zM658 996h2v2h-2zM820 996h2v2h-2zM1006 996h2v2h-2zM1156 996h4v2h-4zM1298 996h2v2h-2zM26 998h2v2h-2zM192 998h2v2h-2zM656 998h2v2h-2zM822 998h2v2h-2zM1006 998h2v2h-2zM1160 998h2v2h-2zM1298 998h2v2h-2zM24 1000h2v2h-2zM194 1000h2v2h-2zM656 1000h2v2h-2zM824 1000h2v2h-2zM1004 1000h2v2h-2zM1162 1000h2v2h-2zM1296 1000h2v2h-2zM22 1002h2v2h-2zM196 1002h2v2h-2zM654 1002h2v2h-2zM826 1002h2v2h-2zM1002 1002h2v2h-2zM1162 1002h2v2h-2zM1296 1002h2v2h-2zM22 1004h2v2h-2zM196 1004h2v2h-2zM652 1004h2v2h-2zM828 1004h2v2h-2zM1002 1004h2v2h-2zM1164 1004h2v2h-2zM1294 1004h2v2h-2zM20 1006h2v2h-2zM198 1006h2v2h-2zM652 1006h2v2h-2zM830 1006h2v2h-2zM1002 1006h2v2h-2zM1166 1006h2v2h-2zM1292 1006h2v2h-2zM20 1008h2v2h-2zM200 1008h2v2h-2zM650 1008h2v2h-2zM832 1008h2v2h-2zM1000 1008h2v2h-2zM1168 1008h2v2h-2zM1292 1008h2v2h-2zM18 1010h2v2h-2zM200 1010h2v2h-2zM650 1010h2v2h-2zM832 1010h2v2h-2zM998 1010h2v2h-2zM1168 1010h2v2h-2zM1290 1010h2v2h-2zM18 1012h2v2h-2zM202 1012h2v2h-2zM648 1012h2v2h-2zM834 1012h2v2h-2zM998 1012h2v2h-2zM1170 1012h2v2h-2zM1288 1012h2v2h-2zM16 1014h2v2h-2zM204 1014h2v2h-2zM648 1014h2v2h-2zM834 1014h2v2h-2zM998 1014h2v2h-2zM1172 1014h2v2h-2zM1288 1014h2v2h-2zM16 1016h2v2h-2zM204 1016h2v2h-2zM646 1016h2v2h-2zM836 1016h2v2h-2zM996 1016h2v2h-2zM1172 1016h2v2h-2zM1286 1016h2v2h-2zM14 1018h2v2h-2zM206 1018h2v2h-2zM644 1018h2v2h-2zM836 1018h2v2h-2zM994 1018h2v2h-2zM1174 1018h2v2h-2zM1282 1018h4v2h-4zM12 1020h2v2h-2zM208 1020h2v2h-2zM644 1020h2v2h-2zM838 1020h2v2h-2zM994 1020h2v2h-2zM1176 1020h2v2h-2zM1280 1020h2v2h-2zM12 1022h2v2h-2zM208 1022h2v2h-2zM642 1022h2v2h-2zM840 1022h2v2h-2zM994 1022h2v2h-2zM1178 1022h2v2h-2zM1278 1022h2v2h-2zM10 1024h2v2h-2zM210 1024h2v2h-2zM642 1024h2v2h-2zM842 1024h4v2h-4zM992 1024h2v2h-2zM1180 1024h2v2h-2zM1274 1024h4v2h-4zM8 1026h2v2h-2zM210 1026h2v2h-2zM640 1026h2v2h-2zM846 1026h2v2h-2zM990 1026h2v2h-2zM1182 1026h2v2h-2zM1272 1026h2v2h-2zM8 1028h2v2h-2zM212 1028h2v2h-2zM640 1028h2v2h-2zM848 1028h2v2h-2zM990 1028h2v2h-2zM1184 1028h2v2h-2zM1270 1028h2v2h-2zM6 1030h2v2h-2zM212 1030h2v2h-2zM638 1030h2v2h-2zM850 1030h4v2h-4zM988 1030h2v2h-2zM1186 1030h2v2h-2zM1266 1030h4v2h-4zM4 1032h2v2h-2zM214 1032h2v2h-2zM636 1032h2v2h-2zM854 1032h2v2h-2zM986 1032h2v2h-2zM1186 1032h2v2h-2zM1264 1032h2v2h-2zM2 1034h2v2h-2zM216 1034h2v2h-2zM636 1034h2v2h-2zM856 1034h2v2h-2zM986 1034h2v2h-2zM1188 1034h2v2h-2zM1262 1034h2v2h-2zM2 1036h2v2h-2zM216 1036h2v2h-2zM634 1036h2v2h-2zM858 1036h4v2h-4zM984 1036h2v2h-2zM1190 1036h2v2h-2zM1258 1036h4v2h-4zM0 1038h2v2h-2zM218 1038h2v2h-2zM634 1038h2v2h-2zM862 1038h2v2h-2zM982 1038h2v2h-2zM1192 1038h2v2h-2zM1256 1038h2v2h-2zM-2 1040h2v2h-2zM220 1040h2v2h-2zM632 1040h2v2h-2zM864 1040h2v2h-2zM980 1040h2v2h-2zM1194 1040h2v2h-2zM1254 1040h2v2h-2zM220 1042h2v2h-2zM632 1042h2v2h-2zM866 1042h2v2h-2zM978 1042h2v2h-2zM1196 1042h2v2h-2zM1252 1042h2v2h-2zM222 1044h2v2h-2zM630 1044h2v2h-2zM868 1044h2v2h-2zM976 1044h2v2h-2zM1198 1044h2v2h-2zM1250 1044h2v2h-2zM224 1046h2v2h-2zM628 1046h2v2h-2zM870 1046h2v2h-2zM974 1046h2v2h-2zM1200 1046h2v2h-2zM1248 1046h2v2h-2zM224 1048h2v2h-2zM628 1048h2v2h-2zM872 1048h2v2h-2zM970 1048h4v2h-4zM1202 1048h2v2h-2zM1246 1048h2v2h-2zM226 1050h2v2h-2zM626 1050h2v2h-2zM874 1050h2v2h-2zM968 1050h2v2h-2zM1204 1050h2v2h-2zM1244 1050h2v2h-2zM228 1052h2v2h-2zM626 1052h2v2h-2zM876 1052h2v2h-2zM964 1052h4v2h-4zM1206 1052h2v2h-2zM1242 1052h2v2h-2zM228 1054h2v2h-2zM624 1054h2v2h-2zM878 1054h2v2h-2zM940 1054h24v2h-24zM1208 1054h2v2h-2zM1240 1054h2v2h-2zM230 1056h2v2h-2zM372 1056h6v2h-6zM624 1056h2v2h-2zM880 1056h2v2h-2zM932 1056h8v2h-8zM1210 1056h2v2h-2zM1238 1056h2v2h-2zM232 1058h2v2h-2zM366 1058h6v2h-6zM378 1058h2v2h-2zM622 1058h2v2h-2zM882 1058h2v2h-2zM930 1058h2v2h-2zM1210 1058h2v2h-2zM1236 1058h2v2h-2zM234 1060h2v2h-2zM364 1060h2v2h-2zM380 1060h6v2h-6zM620 1060h2v2h-2zM884 1060h2v2h-2zM926 1060h4v2h-4zM1212 1060h2v2h-2zM1234 1060h2v2h-2zM234 1062h2v2h-2zM362 1062h2v2h-2zM386 1062h2v2h-2zM618 1062h2v2h-2zM886 1062h2v2h-2zM924 1062h2v2h-2zM1214 1062h4v2h-4zM1234 1062h2v2h-2zM236 1064h2v2h-2zM360 1064h2v2h-2zM388 1064h4v2h-4zM618 1064h2v2h-2zM888 1064h2v2h-2zM922 1064h2v2h-2zM1218 1064h2v2h-2zM1232 1064h2v2h-2zM238 1066h2v2h-2zM358 1066h2v2h-2zM392 1066h2v2h-2zM616 1066h2v2h-2zM890 1066h4v2h-4zM920 1066h2v2h-2zM1220 1066h12v2h-12zM240 1068h2v2h-2zM356 1068h2v2h-2zM394 1068h4v2h-4zM516 1068h8v2h-8zM614 1068h2v2h-2zM894 1068h2v2h-2zM918 1068h2v2h-2zM242 1070h2v2h-2zM356 1070h2v2h-2zM398 1070h30v2h-30zM510 1070h6v2h-6zM524 1070h6v2h-6zM612 1070h2v2h-2zM896 1070h2v2h-2zM914 1070h4v2h-4zM244 1072h2v2h-2zM354 1072h2v2h-2zM428 1072h8v2h-8zM506 1072h4v2h-4zM530 1072h2v2h-2zM610 1072h2v2h-2zM898 1072h2v2h-2zM912 1072h2v2h-2zM246 1074h4v2h-4zM352 1074h2v2h-2zM436 1074h8v2h-8zM504 1074h2v2h-2zM532 1074h8v2h-8zM608 1074h2v2h-2zM900 1074h2v2h-2zM908 1074h4v2h-4zM250 1076h2v2h-2zM352 1076h2v2h-2zM444 1076h24v2h-24zM502 1076h2v2h-2zM540 1076h6v2h-6zM588 1076h20v2h-20zM902 1076h6v2h-6zM252 1078h4v2h-4zM350 1078h2v2h-2zM468 1078h6v2h-6zM498 1078h4v2h-4zM546 1078h2v2h-2zM580 1078h8v2h-8zM256 1080h2v2h-2zM348 1080h2v2h-2zM474 1080h2v2h-2zM496 1080h2v2h-2zM548 1080h8v2h-8zM564 1080h16v2h-16zM258 1082h4v2h-4zM346 1082h2v2h-2zM476 1082h20v2h-20zM556 1082h8v2h-8zM262 1084h2v2h-2zM346 1084h2v2h-2zM264 1086h2v2h-2zM344 1086h2v2h-2zM266 1088h4v2h-4zM340 1088h4v2h-4zM270 1090h2v2h-2zM338 1090h2v2h-2zM272 1092h2v2h-2zM332 1092h6v2h-6zM274 1094h2v2h-2zM324 1094h8v2h-8zM276 1096h2v2h-2zM316 1096h8v2h-8zM278 1098h2v2h-2zM314 1098h2v2h-2zM280 1100h2v2h-2zM308 1100h6v2h-6zM282 1102h4v2h-4zM306 1102h2v2h-2zM286 1104h4v2h-4zM300 1104h6v2h-6zM290 1106h2v2h-2zM298 1106h2v2h-2zM292 1108h6v2h-6z" fill="#0aa59f" shape-rendering="crispEdges"/>
<path d="M150 930h6v2h-6zM158 930h6v2h-6zM166 930h6v2h-6zM146 932h2v2h-2zM174 932h6v2h-6zM142 934h4v2h-4zM182 934h4v2h-4zM138 936h2v2h-2zM186 936h2v2h-2zM790 936h6v2h-6zM798 936h6v2h-6zM806 936h6v2h-6zM134 938h4v2h-4zM190 938h2v2h-2zM782 938h6v2h-6zM814 938h4v2h-4zM192 940h2v2h-2zM778 940h2v2h-2zM818 940h2v2h-2zM130 942h2v2h-2zM194 942h2v2h-2zM774 942h4v2h-4zM822 942h4v2h-4zM128 944h2v2h-2zM770 944h2v2h-2zM826 944h2v2h-2zM126 946h2v2h-2zM198 946h2v2h-2zM766 946h4v2h-4zM830 946h2v2h-2zM1126 946h6v2h-6zM1134 946h6v2h-6zM1142 946h6v2h-6zM122 948h2v2h-2zM200 948h2v2h-2zM762 948h2v2h-2zM832 948h2v2h-2zM1118 948h6v2h-6zM1150 948h4v2h-4zM120 950h2v2h-2zM202 950h2v2h-2zM760 950h2v2h-2zM834 950h2v2h-2zM1114 950h2v2h-2zM1154 950h2v2h-2zM118 952h2v2h-2zM206 952h2v2h-2zM758 952h2v2h-2zM838 952h2v2h-2zM1110 952h4v2h-4zM1158 952h4v2h-4zM208 954h2v2h-2zM754 954h2v2h-2zM840 954h2v2h-2zM1106 954h2v2h-2zM1162 954h2v2h-2zM114 956h2v2h-2zM210 956h2v2h-2zM752 956h2v2h-2zM842 956h2v2h-2zM1104 956h2v2h-2zM1166 956h2v2h-2zM112 958h2v2h-2zM750 958h2v2h-2zM1102 958h2v2h-2zM1168 958h2v2h-2zM110 960h2v2h-2zM214 960h2v2h-2zM846 960h2v2h-2zM1170 960h2v2h-2zM216 962h2v2h-2zM746 962h2v2h-2zM848 962h2v2h-2zM1098 962h2v2h-2zM1174 962h2v2h-2zM106 964h2v2h-2zM218 964h2v2h-2zM744 964h2v2h-2zM850 964h2v2h-2zM1096 964h2v2h-2zM1176 964h2v2h-2zM104 966h2v2h-2zM742 966h2v2h-2zM1094 966h2v2h-2zM1178 966h2v2h-2zM102 968h2v2h-2zM222 968h2v2h-2zM1182 968h2v2h-2zM224 970h2v2h-2zM854 970h2v2h-2zM1090 970h2v2h-2zM1184 970h2v2h-2zM226 972h2v2h-2zM738 972h2v2h-2zM856 972h2v2h-2zM1088 972h2v2h-2zM1186 972h2v2h-2zM98 974h2v2h-2zM736 974h2v2h-2zM858 974h2v2h-2zM1086 974h2v2h-2zM1190 974h2v2h-2zM96 976h2v2h-2zM230 976h2v2h-2zM734 976h2v2h-2zM1192 976h2v2h-2zM94 978h2v2h-2zM232 978h2v2h-2zM862 978h2v2h-2zM1082 978h2v2h-2zM1194 978h2v2h-2zM234 980h2v2h-2zM864 980h2v2h-2zM1080 980h2v2h-2zM730 982h2v2h-2zM866 982h2v2h-2zM1078 982h2v2h-2zM1198 982h2v2h-2zM90 984h2v2h-2zM728 984h2v2h-2zM1200 984h2v2h-2zM88 986h2v2h-2zM238 986h2v2h-2zM726 986h2v2h-2zM870 986h2v2h-2zM1074 986h2v2h-2zM1202 986h2v2h-2zM86 988h2v2h-2zM240 988h2v2h-2zM872 988h2v2h-2zM1072 988h2v2h-2zM242 990h2v2h-2zM874 990h2v2h-2zM1070 990h2v2h-2zM722 992h2v2h-2zM1206 992h2v2h-2zM720 994h2v2h-2zM1066 994h2v2h-2zM1208 994h2v2h-2zM80 996h2v2h-2zM246 996h2v2h-2zM718 996h2v2h-2zM878 996h2v2h-2zM1064 996h2v2h-2zM1210 996h2v2h-2zM80 998h2v2h-2zM248 998h2v2h-2zM880 998h2v2h-2zM1062 998h2v2h-2zM78 1000h2v2h-2zM250 1000h2v2h-2zM882 1000h2v2h-2zM714 1002h2v2h-2zM1058 1002h2v2h-2zM1214 1002h2v2h-2zM712 1004h2v2h-2zM886 1004h2v2h-2zM1056 1004h2v2h-2zM1216 1004h2v2h-2zM74 1006h2v2h-2zM254 1006h2v2h-2zM710 1006h2v2h-2zM888 1006h2v2h-2zM1054 1006h2v2h-2zM1218 1006h2v2h-2zM72 1008h2v2h-2zM256 1008h2v2h-2zM890 1008h2v2h-2zM70 1010h2v2h-2zM258 1010h2v2h-2zM1050 1010h2v2h-2zM1222 1010h2v2h-2zM706 1012h2v2h-2zM894 1012h2v2h-2zM1048 1012h2v2h-2zM1224 1012h2v2h-2zM262 1014h2v2h-2zM704 1014h2v2h-2zM896 1014h2v2h-2zM1046 1014h2v2h-2zM1226 1014h2v2h-2zM264 1016h2v2h-2zM702 1016h2v2h-2zM898 1016h2v2h-2zM64 1018h2v2h-2zM266 1018h2v2h-2zM1042 1018h2v2h-2zM1230 1018h2v2h-2zM64 1020h2v2h-2zM698 1020h2v2h-2zM1040 1020h2v2h-2zM1232 1020h2v2h-2zM62 1022h2v2h-2zM696 1022h2v2h-2zM902 1022h2v2h-2zM1038 1022h2v2h-2zM1234 1022h2v2h-2zM270 1024h2v2h-2zM694 1024h2v2h-2zM904 1024h2v2h-2zM1238 1024h4v2h-4zM272 1026h2v2h-2zM906 1026h2v2h-2zM1034 1026h2v2h-2zM1242 1026h2v2h-2zM58 1028h2v2h-2zM272 1028h2v2h-2zM690 1028h2v2h-2zM1032 1028h2v2h-2zM1246 1028h2v2h-2zM1322 1028h2v2h-2zM56 1030h2v2h-2zM688 1030h2v2h-2zM910 1030h2v2h-2zM1030 1030h2v2h-2zM1248 1030h2v2h-2zM1318 1030h4v2h-4zM54 1032h2v2h-2zM686 1032h2v2h-2zM912 1032h2v2h-2zM1250 1032h2v2h-2zM1314 1032h2v2h-2zM914 1034h2v2h-2zM1026 1034h2v2h-2zM1254 1034h6v2h-6zM1310 1034h4v2h-4zM50 1036h2v2h-2zM278 1036h2v2h-2zM682 1036h2v2h-2zM918 1036h4v2h-4zM1024 1036h2v2h-2zM1262 1036h4v2h-4zM1306 1036h2v2h-2zM48 1038h2v2h-2zM280 1038h2v2h-2zM680 1038h2v2h-2zM922 1038h2v2h-2zM1022 1038h2v2h-2zM1266 1038h2v2h-2zM1304 1038h2v2h-2zM46 1040h2v2h-2zM282 1040h2v2h-2zM678 1040h2v2h-2zM926 1040h2v2h-2zM1018 1040h2v2h-2zM1270 1040h6v2h-6zM1302 1040h2v2h-2zM928 1042h2v2h-2zM1016 1042h2v2h-2zM1278 1042h6v2h-6zM1286 1042h6v2h-6zM1294 1042h6v2h-6zM42 1044h2v2h-2zM674 1044h2v2h-2zM930 1044h2v2h-2zM1014 1044h2v2h-2zM40 1046h2v2h-2zM286 1046h2v2h-2zM672 1046h2v2h-2zM934 1046h6v2h-6zM1010 1046h2v2h-2zM38 1048h2v2h-2zM288 1048h2v2h-2zM670 1048h2v2h-2zM942 1048h4v2h-4zM1008 1048h2v2h-2zM290 1050h2v2h-2zM666 1050h2v2h-2zM946 1050h2v2h-2zM1006 1050h2v2h-2zM664 1052h2v2h-2zM950 1052h4v2h-4zM1002 1052h2v2h-2zM34 1054h2v2h-2zM662 1054h2v2h-2zM954 1054h2v2h-2zM998 1054h4v2h-4zM32 1056h2v2h-2zM294 1056h2v2h-2zM658 1056h2v2h-2zM958 1056h6v2h-6zM966 1056h6v2h-6zM994 1056h2v2h-2zM30 1058h2v2h-2zM296 1058h2v2h-2zM656 1058h2v2h-2zM974 1058h6v2h-6zM982 1058h6v2h-6zM990 1058h4v2h-4zM26 1060h2v2h-2zM298 1060h2v2h-2zM654 1060h2v2h-2zM24 1062h2v2h-2zM302 1062h2v2h-2zM650 1062h2v2h-2zM22 1064h2v2h-2zM304 1064h2v2h-2zM646 1064h4v2h-4zM306 1066h2v2h-2zM642 1066h2v2h-2zM18 1068h2v2h-2zM310 1068h2v2h-2zM638 1068h4v2h-4zM16 1070h2v2h-2zM312 1070h2v2h-2zM446 1070h6v2h-6zM454 1070h6v2h-6zM462 1070h6v2h-6zM470 1070h6v2h-6zM478 1070h6v2h-6zM634 1070h2v2h-2zM14 1072h2v2h-2zM314 1072h2v2h-2zM438 1072h6v2h-6zM486 1072h6v2h-6zM630 1072h4v2h-4zM10 1074h2v2h-2zM430 1074h6v2h-6zM494 1074h6v2h-6zM502 1074h6v2h-6zM510 1074h6v2h-6zM518 1074h6v2h-6zM614 1074h6v2h-6zM622 1074h6v2h-6zM8 1076h2v2h-2zM318 1076h4v2h-4zM422 1076h6v2h-6zM526 1076h6v2h-6zM534 1076h6v2h-6zM542 1076h6v2h-6zM550 1076h6v2h-6zM598 1076h6v2h-6zM606 1076h6v2h-6zM6 1078h2v2h-2zM322 1078h2v2h-2zM414 1078h6v2h-6zM558 1078h6v2h-6zM566 1078h6v2h-6zM574 1078h6v2h-6zM582 1078h6v2h-6zM590 1078h6v2h-6zM-2 1080h6v2h-6zM326 1080h2v2h-2zM410 1080h2v2h-2zM328 1082h2v2h-2zM406 1082h4v2h-4zM330 1084h2v2h-2zM390 1084h6v2h-6zM398 1084h6v2h-6zM334 1086h4v2h-4zM382 1086h6v2h-6zM338 1088h2v2h-2zM366 1088h6v2h-6zM374 1088h6v2h-6zM342 1090h6v2h-6zM358 1090h6v2h-6zM350 1092h6v2h-6z" fill="#ff0000" shape-rendering="crispEdges"/>
<g font-family="'Liberation Sans', sans-serif" style="white-space:pre">
<text x="1823.0" y="10.0" font-size="19.3" fill="#000" text-anchor="start" textLength="65.5" lengthAdjust="spacingAndGlyphs">3490.40</text>
<text x="1823.0" y="76.0" font-size="19.3" fill="#000" text-anchor="start" textLength="65.5" lengthAdjust="spacingAndGlyphs">3469.40</text>
<text x="1823.0" y="142.0" font-size="19.3" fill="#000" text-anchor="start" textLength="65.5" lengthAdjust="spacingAndGlyphs">3448.40</text>
<text x="1823.0" y="208.0" font-size="19.3" fill="#000" text-anchor="start" textLength="65.5" lengthAdjust="spacingAndGlyphs">3427.40</text>
<text x="1823.0" y="274.0" font-size="19.3" fill="#000" text-anchor="start" textLength="65.5" lengthAdjust="spacingAndGlyphs">3406.40</text>
<text x="1823.0" y="406.0" font-size="19.3" fill="#000" text-anchor="start" textLength="65.5" lengthAdjust="spacingAndGlyphs">3363.80</text>
<text x="1823.0" y="472.0" font-size="19.3" fill="#000" text-anchor="start" textLength="65.5" lengthAdjust="spacingAndGlyphs">3342.80</text>
<text x="1823.0" y="538.0" font-size="19.3" fill="#000" text-anchor="start" textLength="65.5" lengthAdjust="spacingAndGlyphs">3321.80</text>
<text x="1823.0" y="604.0" font-size="19.3" fill="#000" text-anchor="start" textLength="65.5" lengthAdjust="spacingAndGlyphs">3300.80</text>
<text x="1823.0" y="670.0" font-size="19.3" fill="#000" text-anchor="start" textLength="65.5" lengthAdjust="spacingAndGlyphs">3279.80</text>
<text x="1823.0" y="736.0" font-size="19.3" fill="#000" text-anchor="start" textLength="65.5" lengthAdjust="spacingAndGlyphs">3258.80</text>
<text x="1823.0" y="802.0" font-size="19.3" fill="#000" text-anchor="start" textLength="65.5" lengthAdjust="spacingAndGlyphs">3237.80</text>
<text x="1823.0" y="868.0" font-size="19.3" fill="#000" text-anchor="start" textLength="65.5" lengthAdjust="spacingAndGlyphs">3216.80</text>
<rect x="1818" y="322" width="78" height="22" fill="#000" shape-rendering="crispEdges"/>
<text x="1823.0" y="340.0" font-size="19.3" fill="#fff" text-anchor="start" textLength="65.5" lengthAdjust="spacingAndGlyphs">3385.39</text>
<text x="1820.5" y="892.0" font-size="19.3" fill="#000" text-anchor="start" textLength="28.6" lengthAdjust="spacingAndGlyphs">100</text>
<text x="1817.3" y="938.0" font-size="19.3" fill="#000" text-anchor="start" textLength="19.5" lengthAdjust="spacingAndGlyphs">80</text>
<text x="1817.3" y="1112.0" font-size="19.3" fill="#000" text-anchor="start" textLength="19.5" lengthAdjust="spacingAndGlyphs">20</text>
<text x="1819.2" y="1156.0" font-size="19.3" fill="#000" text-anchor="start" textLength="9.6" lengthAdjust="spacingAndGlyphs">0</text>
<polygon points="4,12 18.5,12 11.2,20" fill="#000"/>
<text x="27.5" y="21.7" font-size="19.3" fill="#000" text-anchor="start" textLength="108.5" lengthAdjust="spacingAndGlyphs">XAUUSD,H4</text>
<text x="147.0" y="21.7" font-size="19.3" fill="#000" text-anchor="start" textLength="65.5" lengthAdjust="spacingAndGlyphs">3385.92</text>
<text x="219.5" y="21.7" font-size="19.3" fill="#000" text-anchor="start" textLength="65.5" lengthAdjust="spacingAndGlyphs">3393.77</text>
<text x="291.5" y="21.7" font-size="19.3" fill="#000" text-anchor="start" textLength="64.0" lengthAdjust="spacingAndGlyphs">3385.11</text>
<text x="363.3" y="21.7" font-size="19.3" fill="#000" text-anchor="start" textLength="65.5" lengthAdjust="spacingAndGlyphs">3385.39</text>
<text x="5.0" y="895.7" font-size="19.3" fill="#000" text-anchor="start" textLength="273.0" lengthAdjust="spacingAndGlyphs">Stoch(20,15,15) 71.8070 48.0892</text>
<text x="-2.5" y="1187.5" font-size="19.3" fill="#000" text-anchor="start" textLength="97.0" lengthAdjust="spacingAndGlyphs">12 Jun 2025</text>
<text x="124.5" y="1187.5" font-size="19.3" fill="#000" text-anchor="start" textLength="104.0" lengthAdjust="spacingAndGlyphs">16 Jun 17:00</text>
<text x="252.5" y="1187.5" font-size="19.3" fill="#000" text-anchor="start" textLength="104.0" lengthAdjust="spacingAndGlyphs">19 Jun 09:00</text>
<text x="380.5" y="1187.5" font-size="19.3" fill="#000" text-anchor="start" textLength="104.0" lengthAdjust="spacingAndGlyphs">24 Jun 05:00</text>
<text x="508.5" y="1187.5" font-size="19.3" fill="#000" text-anchor="start" textLength="104.0" lengthAdjust="spacingAndGlyphs">26 Jun 21:00</text>
<text x="637.5" y="1187.5" font-size="19.3" fill="#000" text-anchor="start" textLength="88.0" lengthAdjust="spacingAndGlyphs">1 Jul 13:00</text>
<text x="764.0" y="1187.5" font-size="19.3" fill="#000" text-anchor="start" textLength="89.0" lengthAdjust="spacingAndGlyphs">4 Jul 09:00</text>
<text x="892.0" y="1187.5" font-size="19.3" fill="#000" text-anchor="start" textLength="89.0" lengthAdjust="spacingAndGlyphs">9 Jul 05:00</text>
<text x="1020.5" y="1187.5" font-size="19.3" fill="#000" text-anchor="start" textLength="98.0" lengthAdjust="spacingAndGlyphs">11 Jul 21:00</text>
<text x="1148.5" y="1187.5" font-size="19.3" fill="#000" text-anchor="start" textLength="98.0" lengthAdjust="spacingAndGlyphs">16 Jul 13:00</text>
<text x="1276.5" y="1187.5" font-size="19.3" fill="#000" text-anchor="start" textLength="98.0" lengthAdjust="spacingAndGlyphs">21 Jul 05:00</text>
</g>
</svg>
</body></html>
